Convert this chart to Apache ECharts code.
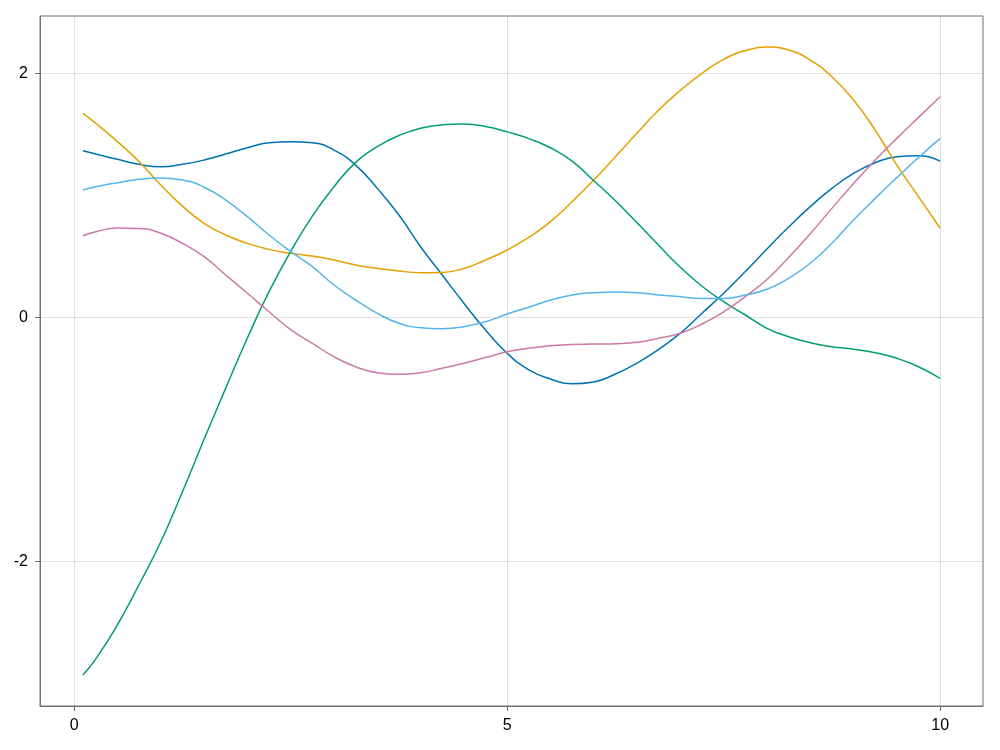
<!DOCTYPE html>
<html>
<head>
<meta charset="utf-8">
<script src="https://cdn.jsdelivr.net/npm/echarts@6/dist/echarts.min.js"></script>
<style>html,body{margin:0;padding:0;background:#fff}#c{width:1000px;height:750px}</style>
</head>
<body>
<div id="c"></div>
<script>
const xs = [0.1, 0.25, 0.5, 0.75, 1.0, 1.25, 1.5, 1.75, 2.0, 2.25, 2.5, 2.75, 3.0, 3.25, 3.5, 3.75, 4.0, 4.25, 4.5, 4.75, 5.0,
            5.25, 5.5, 5.75, 6.0, 6.25, 6.5, 6.75, 7.0, 7.25, 7.5, 7.75, 8.0, 8.25, 8.5, 8.75, 9.0, 9.25, 9.5, 9.75, 10.0];
const blue = [1.366, 1.339, 1.295, 1.254, 1.234, 1.254, 1.289, 1.339, 1.39, 1.431, 1.44, 1.431, 1.371, 1.248, 1.057, 0.839, 0.579, 0.347, 0.115, -0.104, -0.295,
              -0.43, -0.505, -0.545, -0.53, -0.465, -0.375, -0.262, -0.13, 0.033, 0.197, 0.375, 0.56, 0.74, 0.907, 1.057, 1.18, 1.267, 1.316, 1.325, 1.281];
const orange = [1.672, 1.59, 1.44, 1.276, 1.084, 0.912, 0.77, 0.675, 0.606, 0.557, 0.525, 0.502, 0.47, 0.429, 0.401, 0.379, 0.366, 0.368, 0.401, 0.47, 0.552,
                0.655, 0.784, 0.948, 1.125, 1.316, 1.51, 1.70, 1.86, 2.0, 2.115, 2.185, 2.215, 2.191, 2.109, 1.972, 1.781, 1.535, 1.247, 0.989, 0.73];
const green = [-2.932, -2.80, -2.52, -2.19, -1.84, -1.43, -1.0, -0.58, -0.17, 0.21, 0.54, 0.83, 1.07, 1.27, 1.40, 1.49, 1.55, 1.578, 1.585, 1.565, 1.52,
               1.465, 1.39, 1.28, 1.12, 0.955, 0.775, 0.59, 0.41, 0.255, 0.128, 0.019, -0.09, -0.159, -0.208, -0.241, -0.262, -0.29, -0.336, -0.405, -0.5];
const pink = [0.669, 0.702, 0.732, 0.729, 0.689, 0.606, 0.497, 0.347, 0.197, 0.046, -0.1, -0.213, -0.323, -0.405, -0.454, -0.467, -0.454, -0.418, -0.377, -0.33, -0.282,
              -0.254, -0.233, -0.222, -0.219, -0.216, -0.205, -0.172, -0.13, -0.055, 0.045, 0.17, 0.31, 0.49, 0.685, 0.893, 1.098, 1.289, 1.467, 1.639, 1.808];
const skyblue = [1.043, 1.071, 1.104, 1.131, 1.142, 1.126, 1.066, 0.961, 0.825, 0.675, 0.54, 0.415, 0.265, 0.142, 0.033, -0.049, -0.085, -0.093, -0.077, -0.036, 0.027,
                 0.083, 0.142, 0.183, 0.202, 0.207, 0.202, 0.183, 0.169, 0.155, 0.155, 0.183, 0.23, 0.32, 0.443, 0.607, 0.798, 0.975, 1.145, 1.31, 1.467];
const xTicks = [0, 5, 10];
const yTicks = [-2, 0, 2];

const seriesDefs = [
  {name: 'y1', data: blue, color: '#0072B2'},
  {name: 'y2', data: orange, color: '#E69F00'},
  {name: 'y3', data: green, color: '#009E73'},
  {name: 'y4', data: pink, color: '#CC79A7'},
  {name: 'y5', data: skyblue, color: '#56B4E9'}
];

const frameColor = '#707070';
const chart = echarts.init(document.getElementById('c'));
const labelStyle = {color: '#000', fontFamily: 'Liberation Sans, Arial, sans-serif', fontSize: 16};
chart.setOption({
  animation: false,
  backgroundColor: '#fff',
  grid: {left: 40, top: 16, right: 17, bottom: 44, show: true, borderColor: frameColor, borderWidth: 1, containLabel: false},
  xAxis: {
    type: 'value', min: -0.395, max: 10.495,
    axisLine: {show: true, onZero: false, lineStyle: {color: frameColor, width: 1}},
    axisTick: {show: true, inside: false, length: 5, customValues: xTicks, lineStyle: {color: frameColor}},
    axisLabel: Object.assign({customValues: xTicks, margin: 12, formatter: v => String(v)}, labelStyle),
    splitLine: {show: true, lineStyle: {color: 'rgba(0,0,0,0.12)', width: 1}}
  },
  yAxis: {
    type: 'value', min: -3.186, max: 2.47,
    axisLine: {show: true, onZero: false, lineStyle: {color: frameColor, width: 1}},
    axisTick: {show: true, inside: false, length: 5, customValues: yTicks, lineStyle: {color: frameColor}},
    axisLabel: Object.assign({customValues: yTicks, margin: 12, formatter: v => String(v)}, labelStyle),
    splitLine: {show: true, lineStyle: {color: 'rgba(0,0,0,0.12)', width: 1}}
  },
  series: seriesDefs.map(s => ({
    name: s.name, type: 'line', smooth: true, showSymbol: false, symbol: 'none',
    data: xs.map((x, i) => [x, s.data[i]]),
    lineStyle: {color: s.color, width: 1.5},
    itemStyle: {color: s.color}
  }))
});
</script>
</body>
</html>
